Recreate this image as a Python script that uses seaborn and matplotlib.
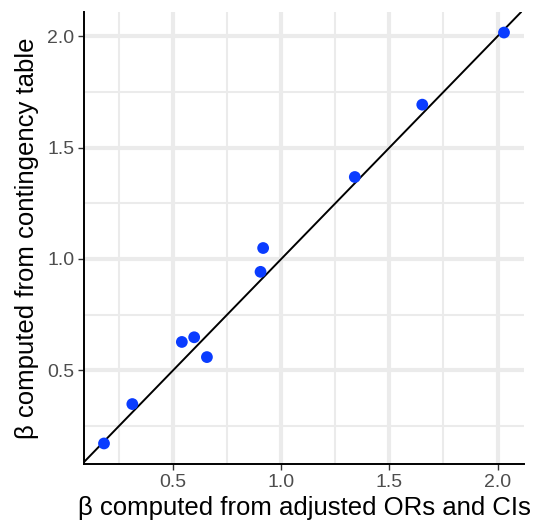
import matplotlib
matplotlib.use("Agg")
import matplotlib.pyplot as plt
import seaborn as sns
import pandas as pd
import numpy as np
from matplotlib.ticker import MultipleLocator

beta_adjusted = [0.180, 0.311, 0.540, 0.597, 0.656, 0.904, 0.916, 1.340, 1.652, 2.030]
beta_contingency = [0.171, 0.348, 0.627, 0.648, 0.559, 0.942, 1.049, 1.368, 1.693, 2.017]
x_ticks = [0.5, 1.0, 1.5, 2.0]
y_ticks = [0.5, 1.0, 1.5, 2.0]
x_label = "β computed from adjusted ORs and CIs"
y_label = "β computed from contingency table"

df = pd.DataFrame({"x": beta_adjusted, "y": beta_contingency})

sns.set_theme(style="white")
plt.rcParams['font.family'] = ['Liberation Sans', 'DejaVu Sans']

fig = plt.figure(figsize=(5.36, 5.26), dpi=100)
ax = fig.add_axes([84/536, 62/526, 440/536, 452/526])

xr = max(beta_adjusted) - min(beta_adjusted)
yr = max(beta_contingency) - min(beta_contingency)
ax.set_xlim(min(beta_adjusted) - 0.05*xr, max(beta_adjusted) + 0.05*xr)
ax.set_ylim(min(beta_contingency) - 0.05*yr, max(beta_contingency) + 0.05*yr)

ax.xaxis.set_major_locator(plt.FixedLocator(x_ticks))
ax.yaxis.set_major_locator(plt.FixedLocator(y_ticks))
ax.xaxis.set_minor_locator(MultipleLocator(0.25))
ax.yaxis.set_minor_locator(MultipleLocator(0.25))
ax.set_xticklabels([f"{t:.1f}" for t in x_ticks])
ax.set_yticklabels([f"{t:.1f}" for t in y_ticks])

ax.grid(which="major", color="#EBEBEB", linewidth=3.0, zorder=0)
ax.grid(which="minor", color="#EBEBEB", linewidth=1.5, zorder=0)
ax.set_axisbelow(True)

ax.axline((0, 0), slope=1, color="black", linewidth=1.4, zorder=2)
sns.scatterplot(data=df, x="x", y="y", ax=ax, color="#0A3CFF", s=72,
                edgecolor="none", linewidth=0, zorder=3)

for s in ["top", "right"]:
    ax.spines[s].set_visible(False)
for s in ["left", "bottom"]:
    ax.spines[s].set_color("black")
    ax.spines[s].set_linewidth(1.4)

ax.tick_params(which="major", direction="out", length=4, width=1.0, color="#333333",
               labelsize=14, labelcolor="#4D4D4D", pad=3, left=True, bottom=True)
ax.tick_params(which="minor", length=0)

ax.set_xlabel(x_label, fontsize=18.5, color="black", labelpad=4)
ax.set_ylabel(y_label, fontsize=18.5, color="black", labelpad=6)

fig.savefig("out.png", dpi=100)
